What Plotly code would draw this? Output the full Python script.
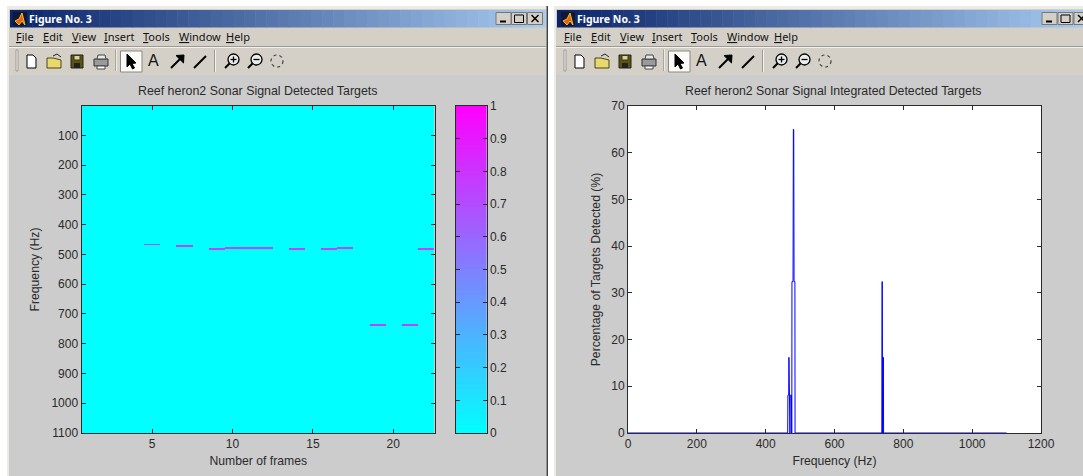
import numpy as np
import plotly.graph_objects as go

W, H = 1083, 476

# ---------- data ----------
frames_axis_ticks = [5, 10, 15, 20]
freq_ticks = [100, 200, 300, 400, 500, 600, 700, 800, 900, 1000, 1100]
target_frames = [5, 7, 9, 10, 11, 12, 14, 16, 17, 19, 21, 22]
target_freqs = [465, 472, 479, 475.5, 475.5, 475.5, 479, 479, 475.5, 736, 736, 479]
target_level = 0.72
n_frames = 22
bin_hz = 3.0
first_bin = 1 + bin_hz / 2
n_bins = 367

spec_freq = [0, 464, 464.6, 467, 467.6, 468.2, 470, 470.6, 471.5, 472.5, 475, 475.4, 476, 476.4, 479.5, 480.5, 481.5, 482.5, 485, 485.4,
             737.5, 738.2, 738.9, 739.6, 740.2, 742, 742.6, 1100]
spec_pct = [0, 0, 8.1, 8.1, 16.2, 8.1, 8.1, 0, 8.1, 8.1, 8.1, 0, 0, 32.4, 32.4, 65, 65, 32.4, 32.4, 0,
            0, 32.4, 32.4, 0, 16.2, 16.2, 0, 0]
cbar_levels = [i / 63 for i in range(64)]
cbar_ticks = [0, .1, .2, .3, .4, .5, .6, .7, .8, .9, 1]
cbar_ticklabels = ["0", "0.1", "0.2", "0.3", "0.4", "0.5", "0.6", "0.7", "0.8", "0.9", "1"]

title_left = "Reef heron2 Sonar Signal Detected Targets"
title_right = "Reef heron2 Sonar Signal Integrated Detected Targets"
menu_items = ["<u>F</u>ile", "<u>E</u>dit", "<u>V</u>iew", "<u>I</u>nsert", "<u>T</u>ools", "<u>W</u>indow", "<u>H</u>elp"]
menu_x = [16, 43, 72, 104, 143, 178.5, 226]

cool = [[0, "#00FFFF"], [1, "#FF00FF"]]
FONT = "Liberation Sans"
INK = "#2a2a2a"

z = np.zeros((n_bins, n_frames))
for fr, f in zip(target_frames, target_freqs):
    row = int(round((f - first_bin) / bin_hz))
    z[row, fr - 1] = target_level
    z[row + 1, fr - 1] = target_level

fig = go.Figure()
fig.add_trace(go.Heatmap(z=z.tolist(), x0=1, dx=1, y0=first_bin, dy=bin_hz, zmin=0, zmax=1,
                         colorscale=cool, showscale=False, xaxis="x", yaxis="y", hoverinfo="skip"))
fig.add_trace(go.Heatmap(z=[[v] for v in cbar_levels], x=[0], y=cbar_levels, zmin=0, zmax=1,
                         colorscale=cool, showscale=False, xaxis="x3", yaxis="y3", hoverinfo="skip"))
fig.add_trace(go.Scatter(x=spec_freq, y=spec_pct, mode="lines", line=dict(color="#0000FF", width=1),
                         xaxis="x2", yaxis="y2", hoverinfo="skip", showlegend=False))


def fx(p):
    return p / W


def fy(p):
    return 1 - p / H


axis_common = dict(showline=True, linecolor=INK, linewidth=1, mirror="ticks", ticks="inside", ticklen=4,
                   tickcolor=INK, tickwidth=1, showgrid=False, zeroline=False,
                   tickfont=dict(family=FONT, size=12, color=INK), title_font=dict(family=FONT, size=12.2, color=INK))

top, bottom = 106, 433
fig.update_layout(
    width=W, height=H, autosize=False, margin=dict(l=0, r=0, t=0, b=0, pad=0, autoexpand=False),
    paper_bgcolor="white", plot_bgcolor="white", showlegend=False,
    font=dict(family=FONT, size=12, color=INK),
    xaxis=dict(domain=[fx(81.5), fx(435)], range=[0.6, 22.6], tickvals=frames_axis_ticks, anchor="y",
               title=dict(text="Number of frames", standoff=6), **axis_common),
    yaxis=dict(domain=[fy(bottom), fy(top)], range=[1100, 1], tickvals=freq_ticks, anchor="x",
               title=dict(text="Frequency (Hz)", standoff=9), **axis_common),
    xaxis2=dict(domain=[fx(628), fx(1041)], range=[0, 1200], dtick=200, anchor="y2",
                title=dict(text="Frequency (Hz)", standoff=6), **axis_common),
    yaxis2=dict(domain=[fy(bottom), fy(top)], range=[0, 70], dtick=10, anchor="x2",
                title=dict(text="Percentage of Targets Detected (%)", standoff=7), **axis_common),
    xaxis3=dict(domain=[fx(456), fx(486.5)], range=[-0.5, 0.5], anchor="y3", showticklabels=False,
                ticks="", showline=True, linecolor=INK, mirror=True, showgrid=False, zeroline=False),
    yaxis3=dict(**{**axis_common, "mirror": "ticks"}, domain=[fy(bottom), fy(top)], range=[0, 1], side="right",
                anchor="x3", tickvals=cbar_ticks, ticktext=cbar_ticklabels),
)

shapes = []
annos = []


def rect(x0, y0, x1, y1, fill, line=None, lw=1):
    shapes.append(dict(type="rect", xref="paper", yref="paper", x0=fx(x0), x1=fx(x1), y0=fy(y0), y1=fy(y1),
                       fillcolor=fill, line=dict(color=line or fill, width=lw if line else 0), layer="below"))


def poly(points, fill=None, line="black", lw=1, closed=False, dash=None):
    d = "M" + " L".join(f"{fx(a):.5f},{fy(b):.5f}" for a, b in points) + (" Z" if closed else "")
    ln = dict(color=line, width=lw) if line else dict(width=0)
    if dash:
        ln["dash"] = dash
    shapes.append(dict(type="path", xref="paper", yref="paper", path=d, fillcolor=fill or "rgba(0,0,0,0)",
                       line=ln, layer="below"))


def circle(cx, cy, r, fill=None, line="black", lw=1, dash=None):
    ln = dict(color=line, width=lw)
    if dash:
        ln["dash"] = dash
    shapes.append(dict(type="circle", xref="paper", yref="paper", x0=fx(cx - r), x1=fx(cx + r), y0=fy(cy + r),
                       y1=fy(cy - r), fillcolor=fill or "rgba(0,0,0,0)", line=ln, layer="below"))


def text(x, y, s, size=11, color="black", anchor="left", family="Noto Sans"):
    annos.append(dict(xref="paper", yref="paper", x=fx(x), y=fy(y), text=s, showarrow=False, xanchor=anchor,
                      yanchor="middle", font=dict(family=family, size=size, color=color), borderpad=0, borderwidth=0,
                      xshift=0, yshift=0))


def hexmix(a, b, t):
    ca = [int(a[i:i + 2], 16) for i in (1, 3, 5)]
    cb = [int(b[i:i + 2], 16) for i in (1, 3, 5)]
    return "#" + "".join(f"{round(p + (q - p) * t):02x}" for p, q in zip(ca, cb))


def window(x0, x1, dx, btn_x):
    rect(x0 - 2, 6, x1 + 2, H, "#EDEBE6")
    rect(x0, 9, x1, H, "#D4D0C8")
    steps = 48
    for i in range(steps):
        a = x0 + 1 + (x1 - x0 - 2) * i / steps
        b = x0 + 1 + (x1 - x0 - 2) * (i + 1) / steps + 0.5
        rect(a, 10, b, 27.5, hexmix("#0A246A", "#A6CAF0", i / (steps - 1)))
    rect(x0, 46, x1, 47, "#9C9A94")
    rect(x0, 47, x1, 48, "#F2F0EC")
    rect(x0, 75, x1, H, "#CCCCCC")
    # application icon
    rect(13 + dx, 12, 27 + dx, 26, "#101838")
    poly([(15 + dx, 21), (19 + dx, 19), (22 + dx, 13), (25 + dx, 25), (22 + dx, 21), (19 + dx, 25)],
         fill="#E8601C", line="#F4C020", lw=1, closed=True)
    text(29 + dx, 19, "<b>Figure No. 3</b>", size=10.5, color="white")
    for bx in btn_x:
        if bx + 14 <= W + 14:
            rect(bx, 12.5, bx + 15, 24.5, "#D4D0C8", line="#777777")
    poly([(btn_x[0] + 4, 21.5), (btn_x[0] + 10, 21.5)], line="black", lw=2)
    rect(btn_x[1] + 3, 15, btn_x[1] + 12, 22.5, "#D4D0C8", line="black")
    poly([(btn_x[2] + 4, 15), (btn_x[2] + 11, 22)], line="black", lw=1.5)
    poly([(btn_x[2] + 11, 15), (btn_x[2] + 4, 22)], line="black", lw=1.5)
    for label, mx in zip(menu_items, menu_x):
        text(mx + dx, 37, label, size=11, color="#111111")
    # toolbar
    rect(16 + dx, 50, 18 + dx, 71, "#F4F2EE", line="#9C9A94")
    poly([(27 + dx, 55), (33 + dx, 55), (36 + dx, 58), (36 + dx, 68), (27 + dx, 68)], fill="white", lw=1, closed=True)
    poly([(47 + dx, 68), (47 + dx, 58), (53 + dx, 58), (61 + dx, 60), (61 + dx, 68)], fill="#E8D870", line="#4A4410", closed=True)
    poly([(53 + dx, 56), (57 + dx, 54), (61 + dx, 57)], line="#222222")
    rect(71 + dx, 55, 83 + dx, 68, "#5C5410", line="#222222")
    rect(74 + dx, 55.5, 80 + dx, 60, "#D8D4A0", line="#3A3610")
    rect(74 + dx, 63, 80 + dx, 68, "#222222")
    rect(94 + dx, 59, 108 + dx, 66, "#9A9A9A", line="#333333")
    poly([(97 + dx, 59), (98 + dx, 55), (105 + dx, 55), (106 + dx, 59)], fill="#E8E8E8", line="#444444", closed=True)
    rect(97 + dx, 66, 105 + dx, 69, "white", line="#444444")
    rect(116 + dx, 49.5, 116.8 + dx, 71, "#F4F2EE")
    rect(115 + dx, 49.5, 115.8 + dx, 71, "#9C9A94")
    rect(120.5 + dx, 51, 142 + dx, 72, "#FAFAF8", line="#8A8880")
    poly([(127 + dx, 54), (127 + dx, 67), (130 + dx, 64), (132.5 + dx, 69), (134.5 + dx, 68), (132 + dx, 63.5), (136 + dx, 63)],
         fill="black", closed=True)
    text(153.5 + dx, 61, "A", size=16, anchor="center", color="#111111", family="Liberation Sans")
    poly([(171 + dx, 68), (183 + dx, 56)], lw=2)
    poly([(176 + dx, 55.5), (184 + dx, 55), (183.5 + dx, 63)], fill="black", closed=True)
    poly([(194 + dx, 68), (206 + dx, 56)], lw=2)
    rect(214 + dx, 50, 215 + dx, 72, "#9C9A94")
    rect(215 + dx, 50, 216 + dx, 72, "#F4F2EE")
    for cx, plus in ((232, True), (255, False)):
        circle(cx + 1.5 + dx, 59.5, 5.5, fill="#ECECEC", lw=1.3)
        poly([(cx - 2.5 + dx, 63.5), (cx - 7 + dx, 68)], lw=2)
        poly([(cx - 1.5 + dx, 59.5), (cx + 4.5 + dx, 59.5)], lw=1.3)
        if plus:
            poly([(cx + 1.5 + dx, 56.5), (cx + 1.5 + dx, 62.5)], lw=1.3)
    circle(277 + dx, 61, 6, line="#444444", lw=1.2, dash="dot")


window(9, 546, 0, [496, 511.5, 527.5])
rect(546.5, 6, 548, H, "#404040")
rect(548, 0, 556, H, "white")
window(556, W + 4, 548, [1042, 1058, 1074])
rect(628, top, 1041, bottom, "white")

text(257.5, 90.5, title_left, size=12.4, color=INK, anchor="center", family=FONT)
text(833, 91.5, title_right, size=12.3, color=INK, anchor="center", family=FONT)

fig.update_layout(shapes=shapes, annotations=annos)
fig.write_html("out.html", default_width="1083px", default_height="476px",
               config={"displayModeBar": False, "responsive": False},
               post_script="document.body.style.margin='0';document.body.style.overflow='hidden';")
